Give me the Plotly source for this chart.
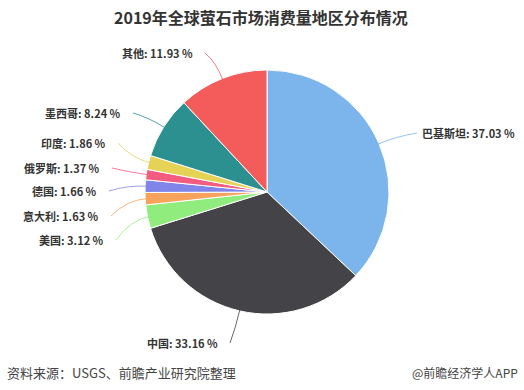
import math
import plotly.graph_objects as go

# ---- data ----
countries = ["巴基斯坦", "中国", "美国", "意大利", "德国", "俄罗斯", "印度", "墨西哥", "其他"]
shares = [37.03, 33.16, 3.12, 1.63, 1.66, 1.37, 1.86, 8.24, 11.93]
colors = ["#7cb5ec", "#434348", "#90ed7d", "#f7a35c", "#8085e9",
          "#f15c80", "#e4d354", "#2b908f", "#f45b5b"]
title_text = "2019年全球萤石市场消费量地区分布情况"
source_text = "资料来源：USGS、前瞻产业研究院整理"
brand_text = "@前瞻经济学人APP"

# ---- layout (pixels) ----
W, H = 524, 390
CX, CY, R = 267, 192, 122
# label anchor (connector start) pixel positions and side
label_pos = {
    "巴基斯坦": (420, 133, "left"),
    "中国": (220, 343, "right"),
    "美国": (106, 240, "right"),
    "意大利": (101, 216, "right"),
    "德国": (99, 191, "right"),
    "俄罗斯": (102, 168, "right"),
    "印度": (108, 143, "right"),
    "墨西哥": (123, 113, "right"),
    "其他": (195, 53, "right"),
}

def px(x):
    return x / W

def py(y):
    return 1 - y / H

fig = go.Figure(go.Pie(
    labels=countries, values=shares, sort=False, direction="clockwise",
    rotation=0, textinfo="none", hoverinfo="label+percent",
    marker=dict(colors=colors, line=dict(color="white", width=1)),
    domain=dict(x=[px(CX - R), px(CX + R)], y=[py(CY + R), py(CY - R)]),
    showlegend=False,
))

total = sum(shares)
cum = 0.0
shapes = []
annotations = []
for name, v, c in zip(countries, shares, colors):
    mid = (cum + v / 2) / total * 2 * math.pi
    cum += v
    ex = CX + (R - 2) * math.sin(mid)
    ey = CY - (R - 2) * math.cos(mid)
    cx_ = CX + (R + 18) * math.sin(mid)
    cy_ = CY - (R + 18) * math.cos(mid)
    lx, ly, side = label_pos[name]
    sx = lx - 3 if side == "left" else lx + 10
    shapes.append(dict(
        type="path", xref="paper", yref="paper",
        path=f"M {px(sx)},{py(ly)} Q {px(cx_)},{py(cy_)} {px(ex)},{py(ey)}",
        line=dict(color=c, width=0.8),
    ))
    annotations.append(dict(
        x=px(lx), y=py(ly), xref="paper", yref="paper",
        xanchor="left" if side == "left" else "right", yanchor="middle",
        text=f"{name}: {v:.2f} %", showarrow=False,
        font=dict(size=11, color="#333333", family="Noto Sans CJK SC, sans-serif",
                  weight="bold"),
    ))

annotations.append(dict(
    x=px(261), y=py(17), xref="paper", yref="paper", xanchor="center",
    yanchor="middle", text=title_text, showarrow=False,
    font=dict(size=16, color="#333333", family="Noto Sans CJK SC, sans-serif",
              weight="bold"),
))
annotations.append(dict(
    x=px(5), y=py(372), xref="paper", yref="paper", xanchor="left",
    yanchor="middle", text=source_text, showarrow=False,
    font=dict(size=13, color="#444444", family="Noto Sans CJK SC, sans-serif"),
))
annotations.append(dict(
    x=px(520), y=py(372), xref="paper", yref="paper", xanchor="right",
    yanchor="middle", text=brand_text, showarrow=False,
    font=dict(size=12, color="#444444", family="Noto Sans CJK SC, sans-serif"),
))

fig.update_layout(
    width=W, height=H, margin=dict(l=0, r=0, t=0, b=0),
    paper_bgcolor="white", plot_bgcolor="white",
    shapes=shapes, annotations=annotations,
)
fig.write_html("out.html", config={"displayModeBar": False},
               post_script="document.body.style.margin='0';document.body.style.overflow='hidden';")
